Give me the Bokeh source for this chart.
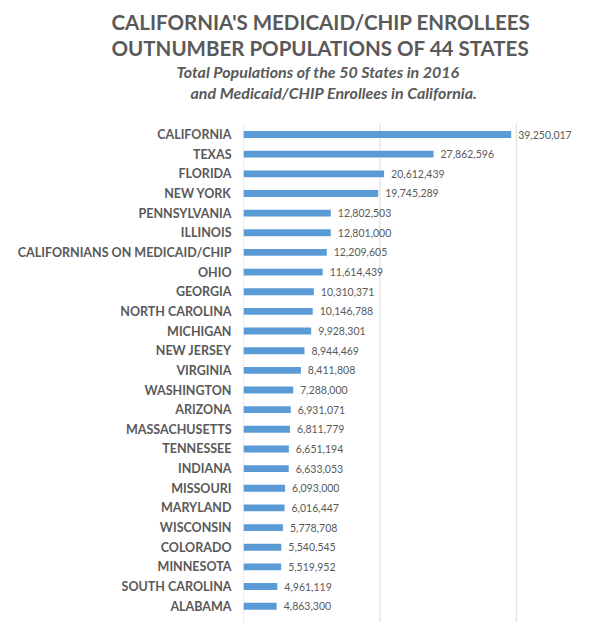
from bokeh.plotting import figure
from bokeh.models import (ColumnDataSource, Range1d, FixedTicker, Title)
from bokeh.core.properties import value
from bokeh.embed import file_html
from bokeh.resources import INLINE

states = ["CALIFORNIA", "TEXAS", "FLORIDA", "NEW YORK", "PENNSYLVANIA", "ILLINOIS",
          "CALIFORNIANS ON MEDICAID/CHIP", "OHIO", "GEORGIA", "NORTH CAROLINA",
          "MICHIGAN", "NEW JERSEY", "VIRGINIA", "WASHINGTON", "ARIZONA",
          "MASSACHUSETTS", "TENNESSEE", "INDIANA", "MISSOURI", "MARYLAND",
          "WISCONSIN", "COLORADO", "MINNESOTA", "SOUTH CAROLINA", "ALABAMA"]
populations = [39250017, 27862596, 20612439, 19745289, 12802503, 12801000,
               12209605, 11614439, 10310371, 10146788, 9928301, 8944469,
               8411808, 7288000, 6931071, 6811779, 6651194, 6633053, 6093000,
               6016447, 5778708, 5540545, 5519952, 4961119, 4863300]
grid_ticks = [0, 20000000, 40000000, 60000000]

title_lines = ["CALIFORNIA'S MEDICAID/CHIP ENROLLEES", "OUTNUMBER POPULATIONS OF 44 STATES"]
subtitle_lines = ["Total Populations of the 50 States in 2016",
                  "and Medicaid/CHIP Enrollees in California."]

GRAY = "#595959"
BLUE = "#5b9bd5"
GRID = "#d9d9d9"
FONT = "Lato"

idx = list(range(len(states)))
src = ColumnDataSource(dict(
    y=idx, v=populations, lbl=[f"{v:,}" for v in populations]))

Y_TOP, Y_BOTTOM = -1.68, 24.83      # visible row window
GRID_TOP = -0.56                     # where the plotting area starts

p = figure(width=614, height=622, output_backend="svg", toolbar_location=None,
           x_range=Range1d(0, 54.4e6), y_range=Range1d(Y_BOTTOM, Y_TOP),
           x_axis_location=None, y_axis_location="left",
           min_border_left=243, min_border_right=0, min_border_bottom=0,
           min_border_top=101)
p.outline_line_color = None
p.background_fill_color = "white"
p.xgrid.visible = False
p.ygrid.visible = False

# vertical gridlines (the one at 0 doubles as the axis line)
p.segment(x0=grid_ticks, x1=grid_ticks, y0=[GRID_TOP] * len(grid_ticks),
          y1=[Y_BOTTOM + 1] * len(grid_ticks), line_color=GRID, line_width=1)

p.hbar(y="y", right="v", left=0, height=0.35, source=src,
       fill_color=BLUE, line_color=None)
p.text(x="v", y="y", text="lbl", source=src, x_offset=7,
       text_font=value(FONT), text_font_size="10.5px", text_color=GRAY,
       text_baseline="middle", text_align="left")

yax = p.yaxis[0]
yax.ticker = FixedTicker(ticks=idx)
yax.major_label_overrides = {i: s for i, s in enumerate(states)}
yax.major_label_text_font = FONT
yax.major_label_text_font_size = "12.5px"
yax.major_label_text_font_style = "bold"
yax.major_label_text_color = GRAY
yax.major_label_standoff = 6
yax.major_tick_line_color = None
yax.minor_tick_line_color = None
yax.axis_line_color = None

# (text, font size, style, standoff, offset) added from the plot outward
title_specs = [
    (subtitle_lines[1], "16px", "bold italic", 0, -53),
    (subtitle_lines[0], "16px", "bold italic", 0, -67),
    (title_lines[1], "20.5px", "bold", 0, -132),
    (title_lines[0], "20.5px", "bold", 0, -132),
]
for txt, fs, style, so, off in title_specs:
    p.add_layout(Title(text=txt, align="left", offset=off, standoff=so,
                       text_font=FONT, text_font_size=fs,
                       text_font_style=style, text_color=GRAY), "above")

open("out.html", "w").write(file_html(p, INLINE))
